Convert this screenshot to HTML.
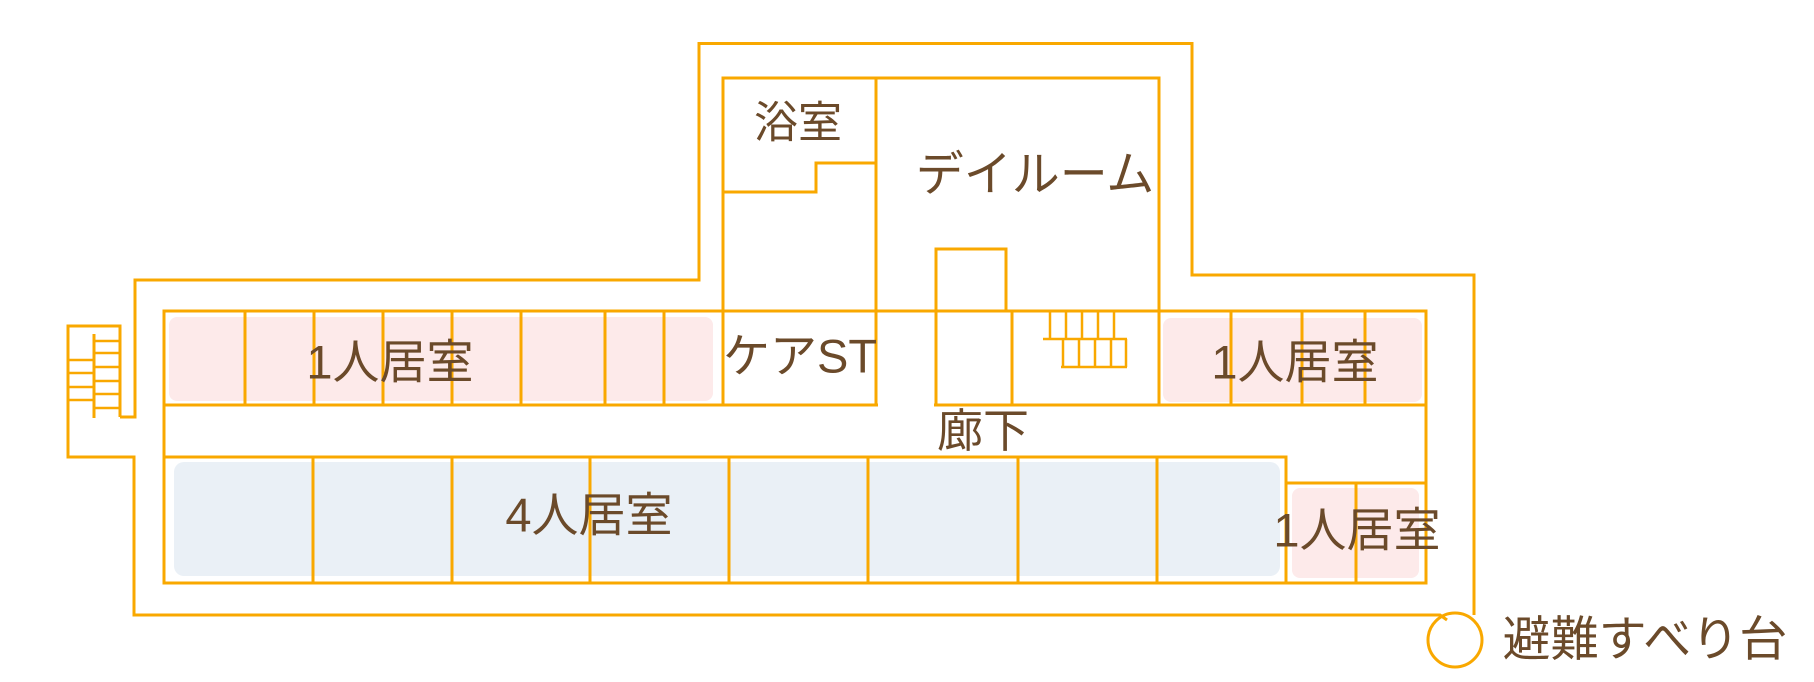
<!DOCTYPE html>
<html><head><meta charset="utf-8"><style>
html,body{margin:0;padding:0;background:#fff;width:1814px;height:682px;overflow:hidden}
svg{display:block}
text{font-family:"Liberation Sans","Noto Sans CJK JP",sans-serif;fill:#6b4a2a;text-anchor:middle;dominant-baseline:central}
</style></head><body>
<svg width="1814" height="682" viewBox="0 0 1814 682">
<g>
<rect x="169" y="317" width="544" height="84" rx="8" fill="#fdeaea"/>
<rect x="1163" y="318" width="259" height="84" rx="8" fill="#fdeaea"/>
<rect x="1292" y="488" width="127" height="90" rx="8" fill="#fdeaea"/>
<rect x="174" y="462" width="1106" height="114" rx="10" fill="#eaf0f6"/>
</g>
<g fill="none" stroke="#f9a800" stroke-width="3">
<polyline points="120,417 135,417 135,280 699,280 699,43.5 1192,43.5 1192,275 1474,275 1474,615"/>
<polyline points="68,355 68,457 134,457 134,615 1440,615 1447,620"/>
<circle cx="1455" cy="640" r="27"/>
<polyline points="68,360 68,326 120,326 120,417"/>
<line x1="94" y1="334" x2="94" y2="418"/>
<g stroke-width="2.5">
<line x1="94" y1="341" x2="120" y2="341"/>
<line x1="94" y1="353" x2="120" y2="353"/>
<line x1="94" y1="367" x2="120" y2="367"/>
<line x1="94" y1="381" x2="120" y2="381"/>
<line x1="94" y1="394" x2="120" y2="394"/>
<line x1="94" y1="408" x2="120" y2="408"/>
<line x1="68" y1="360" x2="94" y2="360"/>
<line x1="68" y1="373" x2="94" y2="373"/>
<line x1="68" y1="387" x2="94" y2="387"/>
<line x1="68" y1="400" x2="94" y2="400"/>
</g>
<polyline points="723,311 723,78 1159,78 1159,405"/>
<line x1="876" y1="78" x2="876" y2="405"/>
<polyline points="876,163 816,163 816,192 723,192"/>
<rect x="164" y="311" width="1262" height="94"/>
<g>
<line x1="245" y1="311" x2="245" y2="405"/>
<line x1="314" y1="311" x2="314" y2="405"/>
<line x1="383" y1="311" x2="383" y2="405"/>
<line x1="452" y1="311" x2="452" y2="405"/>
<line x1="521" y1="311" x2="521" y2="405"/>
<line x1="605" y1="311" x2="605" y2="405"/>
<line x1="664" y1="311" x2="664" y2="405"/>
<line x1="723" y1="311" x2="723" y2="405"/>
<line x1="936" y1="311" x2="936" y2="405"/>
<line x1="1012" y1="311" x2="1012" y2="405"/>
<line x1="1231" y1="311" x2="1231" y2="405"/>
<line x1="1302" y1="311" x2="1302" y2="405"/>
<line x1="1365" y1="311" x2="1365" y2="405"/>
</g>
<rect x="936" y="249" width="70" height="62"/>
<g stroke-width="2.5">
<line x1="1050" y1="311" x2="1050" y2="339"/>
<line x1="1066" y1="311" x2="1066" y2="339"/>
<line x1="1082" y1="311" x2="1082" y2="339"/>
<line x1="1098" y1="311" x2="1098" y2="339"/>
<line x1="1114" y1="311" x2="1114" y2="339"/>
<line x1="1043" y1="339" x2="1127" y2="339"/>
<line x1="1063" y1="339" x2="1063" y2="367"/>
<line x1="1079" y1="339" x2="1079" y2="367"/>
<line x1="1095" y1="339" x2="1095" y2="367"/>
<line x1="1111" y1="339" x2="1111" y2="367"/>
<line x1="1126" y1="339" x2="1126" y2="367"/>
<line x1="1061" y1="367" x2="1127" y2="367"/>
</g>
<polyline points="164,405 164,583 1426,583 1426,405"/>
<polyline points="164,457 1286,457 1286,583"/>
<line x1="313" y1="457" x2="313" y2="583"/>
<line x1="452" y1="457" x2="452" y2="583"/>
<line x1="590" y1="457" x2="590" y2="583"/>
<line x1="729" y1="457" x2="729" y2="583"/>
<line x1="868" y1="457" x2="868" y2="583"/>
<line x1="1018" y1="457" x2="1018" y2="583"/>
<line x1="1157" y1="457" x2="1157" y2="583"/>
<line x1="1286" y1="483" x2="1426" y2="483"/>
<line x1="1356" y1="483" x2="1356" y2="583"/>
</g>
<rect x="878" y="403" width="56" height="4" fill="#fff"/>
<text x="798" y="123" font-size="44">浴室</text>
<text x="1035" y="175" font-size="48">デイルーム</text>
<text x="390" y="362" font-size="47">1人居室</text>
<text x="800" y="356" font-size="47">ケアST</text>
<text x="589" y="515" font-size="47">4人居室</text>
<text x="1295" y="362" font-size="47">1人居室</text>
<text x="983" y="431" font-size="46">廊下</text>
<text x="1357" y="530" font-size="47">1人居室</text>
<text x="1645" y="640" font-size="48">避難すべり台</text>
</svg>
</body></html>
